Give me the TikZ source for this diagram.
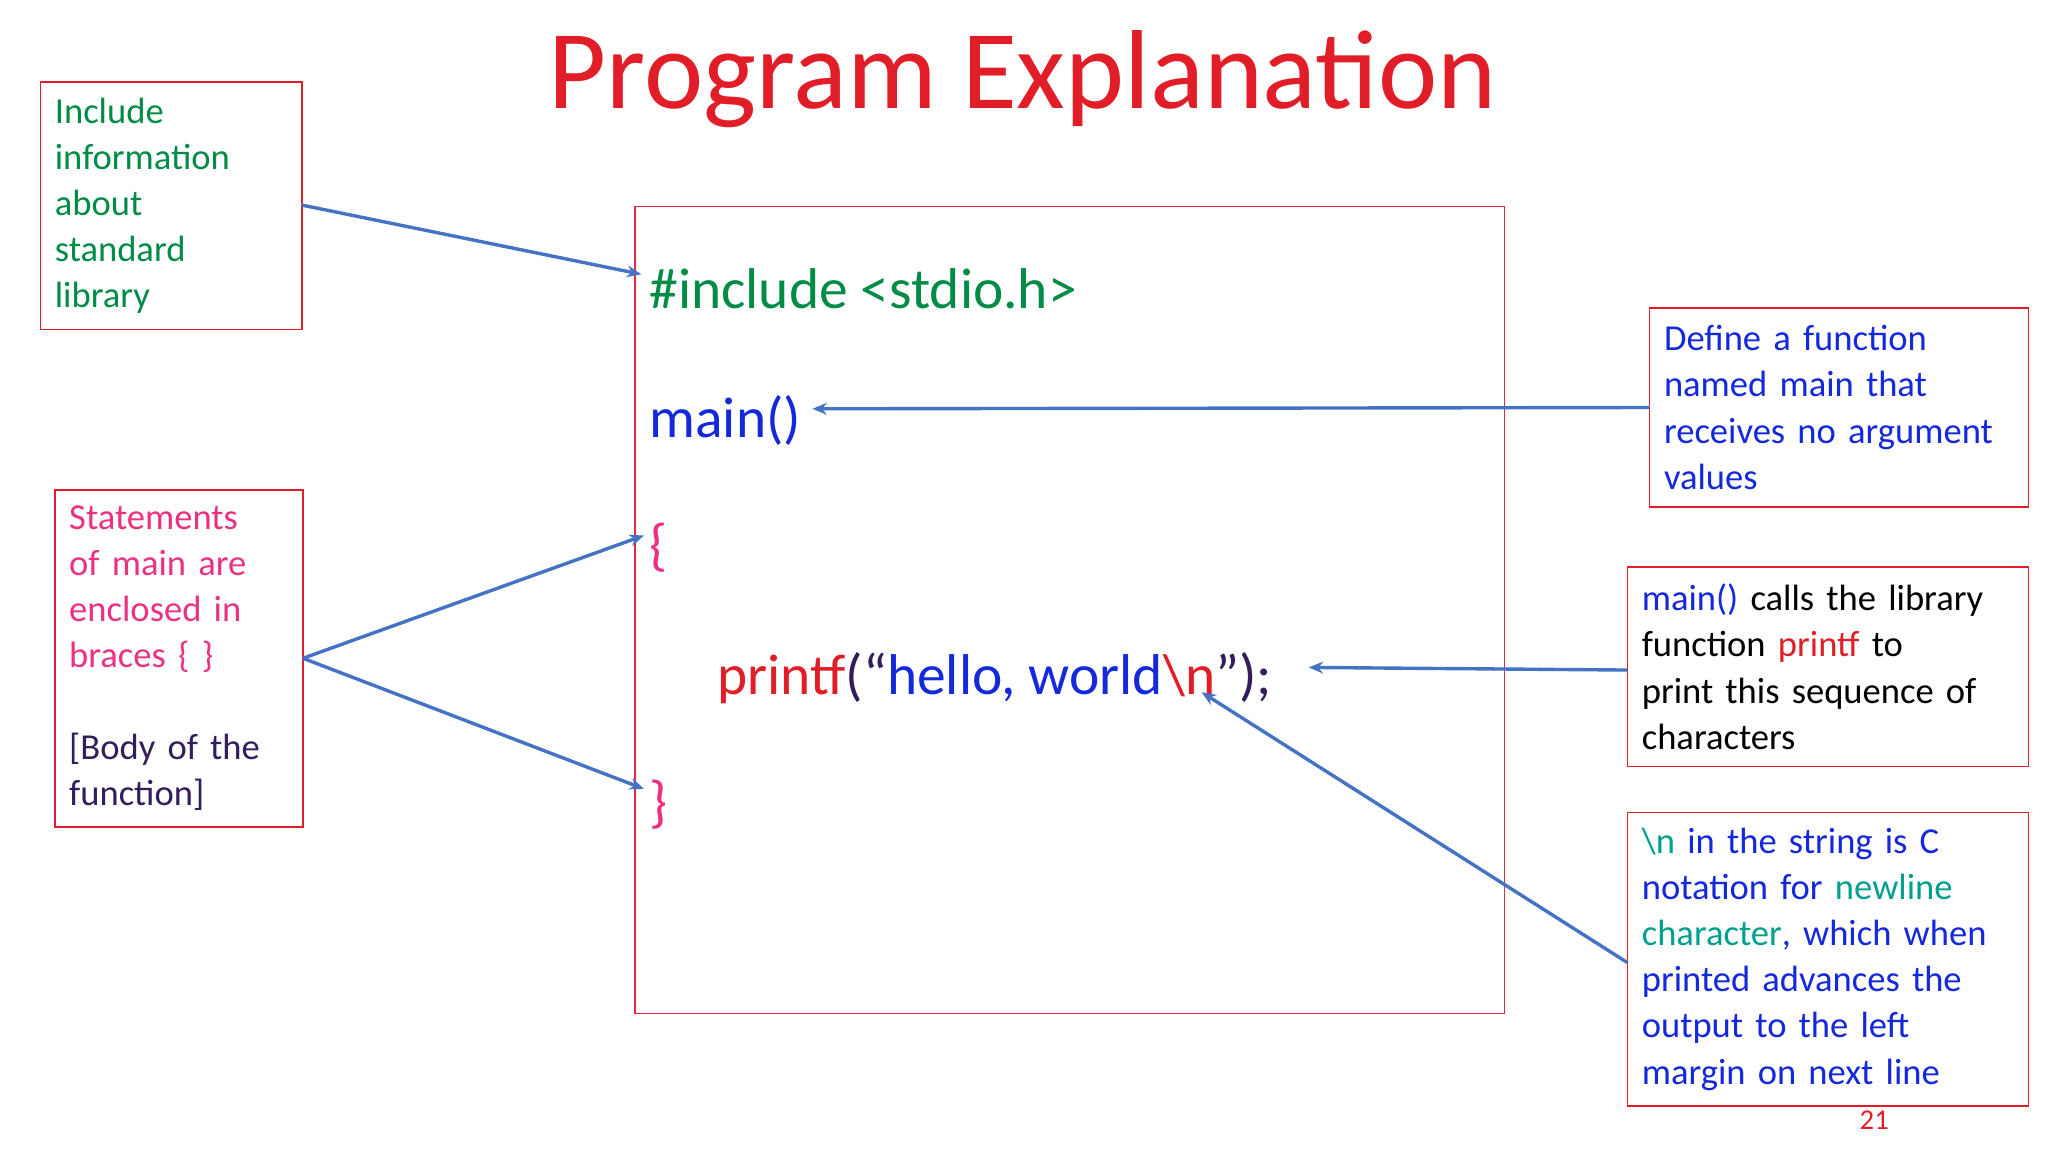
\documentclass[tikz,border=0pt]{standalone}
\usepackage{fontspec}
\setmainfont{Carlito}
\usetikzlibrary{arrows.meta}
\definecolor{cred}{RGB}{225,30,40}
\definecolor{cgreen}{RGB}{0,140,70}
\definecolor{cblue}{RGB}{20,40,220}
\definecolor{cpink}{RGB}{235,50,130}
\definecolor{cpurple}{RGB}{50,30,90}
\definecolor{cteal}{RGB}{0,160,140}
\definecolor{carrow}{RGB}{68,114,196}
\definecolor{cbox}{RGB}{225,40,70}
\newcommand{\nohyph}{\language=255\relax\hyphenpenalty=10000\relax\exhyphenpenalty=10000\relax}
\tikzset{
 x=1pt,y=-1pt,
 note/.style={draw=cred,line width=1.2pt,inner xsep=11pt,inner ysep=12pt,anchor=north west,font=\fontsize{28}{35.3}\selectfont,execute at begin node=\nohyph,outer sep=0pt},
 code/.style={anchor=base west,font=\fontsize{44}{50}\selectfont,inner sep=0pt},
 arr/.style={draw=carrow,line width=2.6pt,-{Stealth[length=11pt,width=9pt]}}
}
\begin{document}
\begin{tikzpicture}
\useasboundingbox (0,0) rectangle (1568,882);
\node[font=\fontsize{86}{100}\selectfont,text=cred,anchor=base] (title) at (783,83) {Program Explanation};
\draw[cbox,line width=1.2pt] (486,158) rectangle (1152,776);
\node[code,text=cgreen] (inc) at (497,236) {\#include <stdio.h>};
\node[code,text=cblue] (mainf) at (497,335) {main()};
\node[code,text=cpink] (lb) at (497,432) {\{};
\node[code] (pf) at (549,532) {\textcolor{cred}{printf}\textcolor{cpurple}{(“}\textcolor{cblue}{hello, world}\textcolor{cred}{\textbackslash n}\textcolor{cpurple}{”);}};
\node[code,text=cpink] (rb) at (497,629) {\}};
\coordinate (nl) at (920,530);
\node[note,text=cgreen,text width=178pt,minimum height=188pt,align=left] (b1) at (31,63) {Include\\information\\about\\standard\\library};
\node[note,text width=168pt,minimum height=258pt,text=cpink] (b2) at (42,375) {Statements of main are enclosed in braces \{ \}\par\vspace{35pt}\textcolor{cpurple}{[Body of the function]}};
\node[note,text width=268pt,minimum height=152pt,text=cblue] (b3) at (1263,236) {Define a function named main that receives no argument values};
\node[note,text width=285pt,minimum height=153pt] (b4) at (1246,434) {\textcolor{cblue}{main()} calls the library function \textcolor{cred}{printf} to print this sequence of characters};
\node[note,text width=285pt,minimum height=223pt,text=cblue] (b5) at (1246,622) {\textcolor{cteal}{\textbackslash n} in the string is C notation for \textcolor{cteal}{newline character}, which when printed advances the output to the left margin on next line};
\node[font=\fontsize{22}{26}\selectfont,text=cred] (pg) at (1435,858) {21};
\draw[arr] (b1.east |- 0,157) -- (491,210);
\draw[arr] (b3.west |- 0,312) -- (622,313);
\draw[arr] (b2.east |- 0,504) -- (493,410);
\draw[arr] (b2.east |- 0,504) -- (493,604);
\draw[arr] (b4.west |- 0,513) -- (1002,511);
\draw[arr] (b5.west |- 0,737) -- (nl);
\end{tikzpicture}
\end{document}
